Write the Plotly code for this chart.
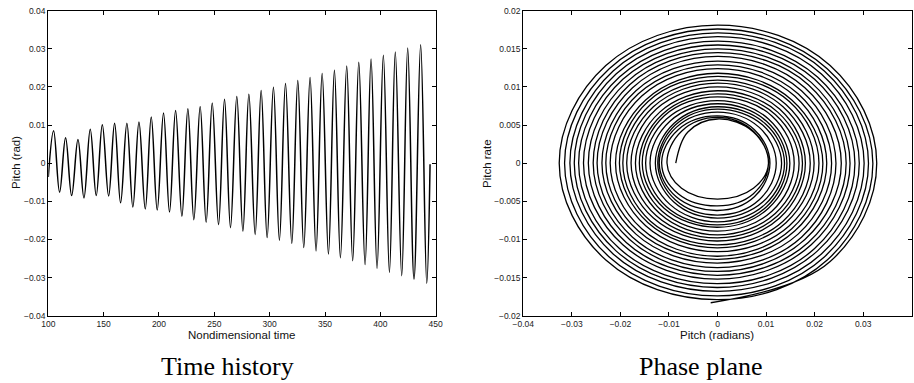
import plotly.graph_objects as go
from plotly.subplots import make_subplots

# ---------------- Time history: pitch extrema ----------------
t_start, pitch_start = 100.0, -0.0036
t_end, pitch_end = 444.9, -0.0003

peak_t = [104.8, 115.6, 126.8, 137.9, 148.8, 159.9, 171.0, 181.9, 193.0, 204.1,
          215.0, 226.1, 237.2, 248.1, 259.2, 270.3, 281.2, 292.3, 303.4, 314.3,
          325.4, 336.5, 347.4, 358.5, 369.6, 380.5, 391.6, 402.7, 413.5, 424.7, 436.4]
peak_pitch = [0.0085, 0.0067, 0.0062, 0.0089, 0.0101, 0.0105, 0.0105, 0.0108, 0.0121, 0.0132,
              0.0138, 0.0143, 0.0149, 0.0158, 0.0168, 0.0175, 0.0181, 0.0191, 0.0199, 0.0209,
              0.0217, 0.0225, 0.0235, 0.0244, 0.0255, 0.0265, 0.0273, 0.0283, 0.0292, 0.0302, 0.0311]

trough_t = [110.2, 121.1, 132.2, 143.3, 154.5, 165.3, 176.4, 187.6, 198.4, 209.5,
            220.7, 231.5, 242.6, 253.8, 264.6, 275.8, 286.9, 297.7, 308.8, 320.0,
            330.8, 341.9, 353.1, 363.9, 375.0, 386.2, 397.0, 408.2, 419.3, 430.4, 441.9]
trough_pitch = [-0.0076, -0.0085, -0.0091, -0.0085, -0.0086, -0.0104, -0.0115, -0.0120, -0.0123, -0.0128,
                -0.0139, -0.0148, -0.0155, -0.0161, -0.0169, -0.0178, -0.0187, -0.0195, -0.0202, -0.0210,
                -0.0221, -0.0230, -0.0238, -0.0248, -0.0256, -0.0266, -0.0276, -0.0286, -0.0295, -0.0304, -0.0315]

# ---------------- Phase plane: where each clockwise turn crosses the axes ----------------
pp_left_start = -0.0086
pp_right = [0.0105, 0.0105, 0.0108, 0.0121, 0.0132, 0.0138, 0.0143, 0.0149, 0.0158, 0.0168,
            0.0175, 0.0181, 0.0191, 0.0199, 0.0209, 0.0217, 0.0225, 0.0235, 0.0244, 0.0255,
            0.0265, 0.0273, 0.0283, 0.0292, 0.0302, 0.0311, 0.0320, 0.0328]
pp_left = [-0.0104, -0.0115, -0.0120, -0.0123, -0.0128, -0.0139, -0.0148, -0.0155, -0.0161, -0.0169,
           -0.0178, -0.0187, -0.0195, -0.0202, -0.0210, -0.0221, -0.0230, -0.0238, -0.0248, -0.0256,
           -0.0266, -0.0276, -0.0286, -0.0295, -0.0304, -0.0315, -0.0326]
pp_top = [0.0058, 0.0060, 0.0062, 0.0067, 0.0071, 0.0074, 0.0078, 0.0082, 0.0087, 0.0091,
          0.0095, 0.0100, 0.0105, 0.0109, 0.0114, 0.0118, 0.0124, 0.0129, 0.0134, 0.0140,
          0.0145, 0.0150, 0.0155, 0.0160, 0.0166, 0.0171, 0.0176, 0.0181]
pp_bottom = [-0.0047, -0.0056, -0.0062, -0.0068, -0.0072, -0.0077, -0.0081, -0.0084, -0.0089, -0.0094,
             -0.0098, -0.0102, -0.0107, -0.0111, -0.0116, -0.0122, -0.0126, -0.0131, -0.0137, -0.0142,
             -0.0147, -0.0152, -0.0158, -0.0163, -0.0168, -0.0174, -0.0179]
pp_end_pitch, pp_end_rate = -0.0014, -0.0183

# Each turn also passes through the four diagonal quadrants
pp_diag_left_x = [-0.0061, -0.0074, -0.0081, -0.0085, -0.0087, -0.0090, -0.0098, -0.0105, -0.0110, -0.0114,
                  -0.0119, -0.0126, -0.0132, -0.0138, -0.0143, -0.0148, -0.0156, -0.0163, -0.0168, -0.0175,
                  -0.0181, -0.0188, -0.0195, -0.0202, -0.0209, -0.0215, -0.0223, -0.0230]
pp_diag_right_x = [0.0074, 0.0074, 0.0076, 0.0086, 0.0093, 0.0098, 0.0101, 0.0105, 0.0112, 0.0119,
                   0.0124, 0.0128, 0.0135, 0.0141, 0.0148, 0.0153, 0.0159, 0.0166, 0.0173, 0.0180,
                   0.0187, 0.0193, 0.0200, 0.0206, 0.0214, 0.0220, 0.0226, 0.0232]
pp_diag_upper_y = [0.0041, 0.0042, 0.0044, 0.0047, 0.0050, 0.0052, 0.0055, 0.0058, 0.0062, 0.0064,
                   0.0067, 0.0071, 0.0074, 0.0077, 0.0081, 0.0083, 0.0088, 0.0091, 0.0095, 0.0099,
                   0.0103, 0.0106, 0.0110, 0.0113, 0.0117, 0.0121, 0.0124, 0.0128]
pp_diag_lower_y = [-0.0033, -0.0040, -0.0044, -0.0048, -0.0051, -0.0054, -0.0057, -0.0059, -0.0063, -0.0066,
                   -0.0069, -0.0072, -0.0076, -0.0078, -0.0082, -0.0086, -0.0089, -0.0093, -0.0097, -0.0100,
                   -0.0104, -0.0107, -0.0112, -0.0115, -0.0119, -0.0123, -0.0127, -0.0129]

# ---------------- assemble the traces ----------------
th_t = [t_start]
th_p = [pitch_start]
for tp, pp, tt, pt in zip(peak_t, peak_pitch, trough_t, trough_pitch):
    th_t += [tp, tt]
    th_p += [pp, pt]
th_t.append(t_end)
th_p.append(pitch_end)

ph_x = [pp_left_start]
ph_y = [0.0]
n_turns = len(pp_right)
for k in range(n_turns):
    ph_x += [pp_diag_left_x[k], 0.0, pp_diag_right_x[k], pp_right[k], pp_diag_right_x[k]]
    ph_y += [pp_diag_upper_y[k], pp_top[k], pp_diag_upper_y[k], 0.0, pp_diag_lower_y[k]]
    if k < len(pp_bottom):
        ph_x += [0.0, pp_diag_left_x[k + 1], pp_left[k]]
        ph_y += [pp_bottom[k], pp_diag_lower_y[k], 0.0]
ph_x.append(pp_end_pitch)
ph_y.append(pp_end_rate)

fig = make_subplots(rows=1, cols=2)
fig.add_trace(go.Scatter(x=th_t, y=th_p, mode="lines",
                         line=dict(color="black", width=1.5, shape="spline", smoothing=1.1),
                         showlegend=False, hoverinfo="skip"), row=1, col=1)
fig.add_trace(go.Scatter(x=ph_x, y=ph_y, mode="lines",
                         line=dict(color="black", width=1.3, shape="spline", smoothing=1.1),
                         showlegend=False, hoverinfo="skip"), row=1, col=2)

W, H = 914, 383


def px(x):
    return x / W


def py(y):
    return 1 - y / H


axis_common = dict(showgrid=False, zeroline=False, showline=True, linecolor="black",
                   linewidth=1.3, mirror="allticks", ticks="inside", ticklen=4,
                   tickcolor="black", tickwidth=1, automargin=False,
                   tickfont=dict(family="Liberation Sans", size=8.5, color="#222"))

fig.update_xaxes(axis_common)
fig.update_yaxes(axis_common)
fig.update_xaxes(range=[100, 450], tickvals=[100, 150, 200, 250, 300, 350, 400, 450],
                 domain=[px(48.3), px(435.7)], row=1, col=1)
fig.update_yaxes(range=[-0.04, 0.04], tickvals=[-0.04, -0.03, -0.02, -0.01, 0, 0.01, 0.02, 0.03, 0.04],
                 domain=[py(315.7), py(10.7)], row=1, col=1)
fig.update_xaxes(range=[-0.04, 0.04], tickvals=[-0.04, -0.03, -0.02, -0.01, 0, 0.01, 0.02, 0.03, 0.04],
                 domain=[px(523.3), px(911.7)], row=1, col=2)
fig.update_yaxes(range=[-0.02, 0.02],
                 tickvals=[-0.02, -0.015, -0.01, -0.005, 0, 0.005, 0.01, 0.015, 0.02],
                 domain=[py(315.7), py(10.7)], row=1, col=2)

label_font = dict(family="Liberation Sans", size=11.5, color="#111")
caption_font = dict(family="Liberation Serif", size=26, color="black")
annotations = [
    dict(text="Pitch (rad)", x=px(16), y=py(163), textangle=-90, font=label_font),
    dict(text="Nondimensional time", x=px(241.7), y=py(335), font=label_font),
    dict(text="Pitch rate", x=px(487), y=py(163), textangle=-90, font=label_font),
    dict(text="Pitch (radians)", x=px(716.7), y=py(335), font=label_font),
    dict(text="Time history", x=px(227), y=py(366), font=caption_font),
    dict(text="Phase plane", x=px(700), y=py(366), font=caption_font),
]
for a in annotations:
    a.update(xref="paper", yref="paper", showarrow=False, xanchor="center", yanchor="middle")

fig.update_layout(width=W, height=H, margin=dict(l=0, r=0, t=0, b=0),
                  paper_bgcolor="white", plot_bgcolor="white",
                  annotations=annotations)

fig.write_html("out.html")
